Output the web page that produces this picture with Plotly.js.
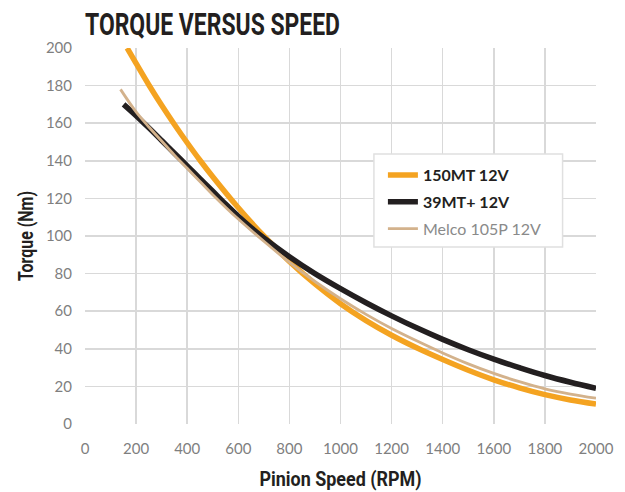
<!DOCTYPE html>
<html>
<head>
<meta charset="utf-8">
<script src="https://cdn.plot.ly/plotly-3.0.1.min.js"></script>
<style>html,body{margin:0;padding:0;background:#fff;}#chart{width:625px;height:492px;}</style>
</head>
<body>
<div id="chart"></div>
<script>
// Data
var rpm150MT = [165,200,250,300,350,400,450,500,600,700,800,900,1000,1100,1200,1300,1400,1500,1600,1700,1800,1900,2000];
var torque150MT = [200,191.8,180.3,169.5,159.3,149.6,140.3,131.5,115,100,86.5,74.5,64,55,47.2,40.4,34.3,28.6,23.5,19.2,15.6,12.8,10.6];

var rpm39MT = [151,200,250,300,350,400,450,500,550,600,650,700,800,900,1000,1100,1200,1300,1400,1500,1600,1700,1800,1900,2000];
var torque39MT = [170,164,157.5,150.8,144,137.3,130.5,123.8,117,110.5,104.5,99,89,80,72,64.5,57.5,51,45,39.5,34.5,30,25.8,22.2,19];

var rpmMelco = [139,200,250,300,350,400,450,500,600,700,800,900,1000,1100,1200,1300,1400,1500,1600,1700,1800,1900,2000];
var torqueMelco = [178,166,158,150.5,143,136,129,122,109,97.2,86,75.8,66.6,58.3,50.8,44.1,37.8,32,26.9,22.5,18.7,15.9,13.7];

var seriesNames = ['<b>150MT 12V</b>', '<b>39MT+ 12V</b>', '<span style="color:#8a8a8a">Melco 105P 12V</span>'];
var xTicks = [0,200,400,600,800,1000,1200,1400,1600,1800,2000];
var yTicks = [0,20,40,60,80,100,120,140,160,180,200];
var xGrid = [200,400,600,800,1000,1200,1400,1600,1800];
var yGrid = [20,40,60,80,100,120,140,160,180];

var titleFont = 'Roboto, Liberation Sans, sans-serif';
var gridColor = '#d9d9d9';

var traces = [
  {x: rpm150MT, y: torque150MT, name: seriesNames[0], type: 'scatter', mode: 'lines',
   line: {color: '#f4a321', width: 5.5, shape: 'spline'}, cliponaxis: false, legendgroup: 'a'},
  {x: rpm39MT, y: torque39MT, name: seriesNames[1], type: 'scatter', mode: 'lines',
   line: {color: '#231f20', width: 5.5, shape: 'spline'}, cliponaxis: false, legendgroup: 'b'},
  {x: rpmMelco, y: torqueMelco, name: seriesNames[2], type: 'scatter', mode: 'lines',
   line: {color: '#d3b28c', width: 2.8, shape: 'spline'}, cliponaxis: false, legendgroup: 'c'}
];

var layout = {
  width: 625, height: 492,
  margin: {l: 84.5, r: 28.5, t: 48, b: 68},
  paper_bgcolor: '#fff', plot_bgcolor: '#fff',
  showlegend: true,
  title: {text: 'TORQUE VERSUS SPEED', font: {family: titleFont, size: 31, color: '#231f20', weight: 700},
          x: 0, xref: 'paper', xanchor: 'left', y: 0.951, yref: 'container', yanchor: 'middle'},
  xaxis: {
    range: [0, 2000], tickmode: 'array', tickvals: xTicks, ticks: '', showgrid: false,
    zeroline: false, showline: false, ticklabelstandoff: 14,
    tickfont: {family: 'Lato, sans-serif', size: 15, color: '#7f7f7f'},
    minor: {tickmode: 'array', tickvals: xGrid, showgrid: true, gridcolor: gridColor, gridwidth: 1.5, ticks: ''},
    title: {text: 'Pinion Speed (RPM)', font: {family: titleFont, size: 20, color: '#231f20', weight: 700}, standoff: 15},
    automargin: false, fixedrange: true
  },
  yaxis: {
    range: [0, 200], tickmode: 'array', tickvals: yTicks, ticks: '', showgrid: false,
    zeroline: false, showline: false, ticklabelstandoff: 12,
    tickfont: {family: 'Lato, sans-serif', size: 15, color: '#7f7f7f'},
    minor: {tickmode: 'array', tickvals: yGrid, showgrid: true, gridcolor: gridColor, gridwidth: 1.5, ticks: ''},
    title: {text: 'Torque (Nm)', font: {family: titleFont, size: 20, color: '#231f20', weight: 700}, standoff: 6},
    automargin: false, fixedrange: true
  },
  legend: {
    x: 0.583, y: 0.707, xanchor: 'left', yanchor: 'top',
    bgcolor: 'rgba(0,0,0,0)', borderwidth: 0,
    font: {family: 'Lato, sans-serif', size: 16, color: '#231f20'},
    traceorder: 'grouped', tracegroupgap: 3
  },
  shapes: [
    {type: 'rect', xref: 'paper', yref: 'paper', x0: 0.5654, x1: 0.9346, y0: 0.4707, y1: 0.718,
     fillcolor: '#ffffff', line: {color: '#e0e0e0', width: 1.5}, layer: 'above'}
  ]
};

function condense(sel, len) {
  var el = document.querySelector(sel);
  if (el) {
    el.setAttribute('textLength', len);
    el.setAttribute('lengthAdjust', 'spacingAndGlyphs');
  }
}

Plotly.newPlot('chart', traces, layout, {displayModeBar: false, staticPlot: true}).then(function () {
  condense('.gtitle', 255);
  condense('.xtitle', 162);
  condense('.ytitle', 90);
});
</script>
</body>
</html>
